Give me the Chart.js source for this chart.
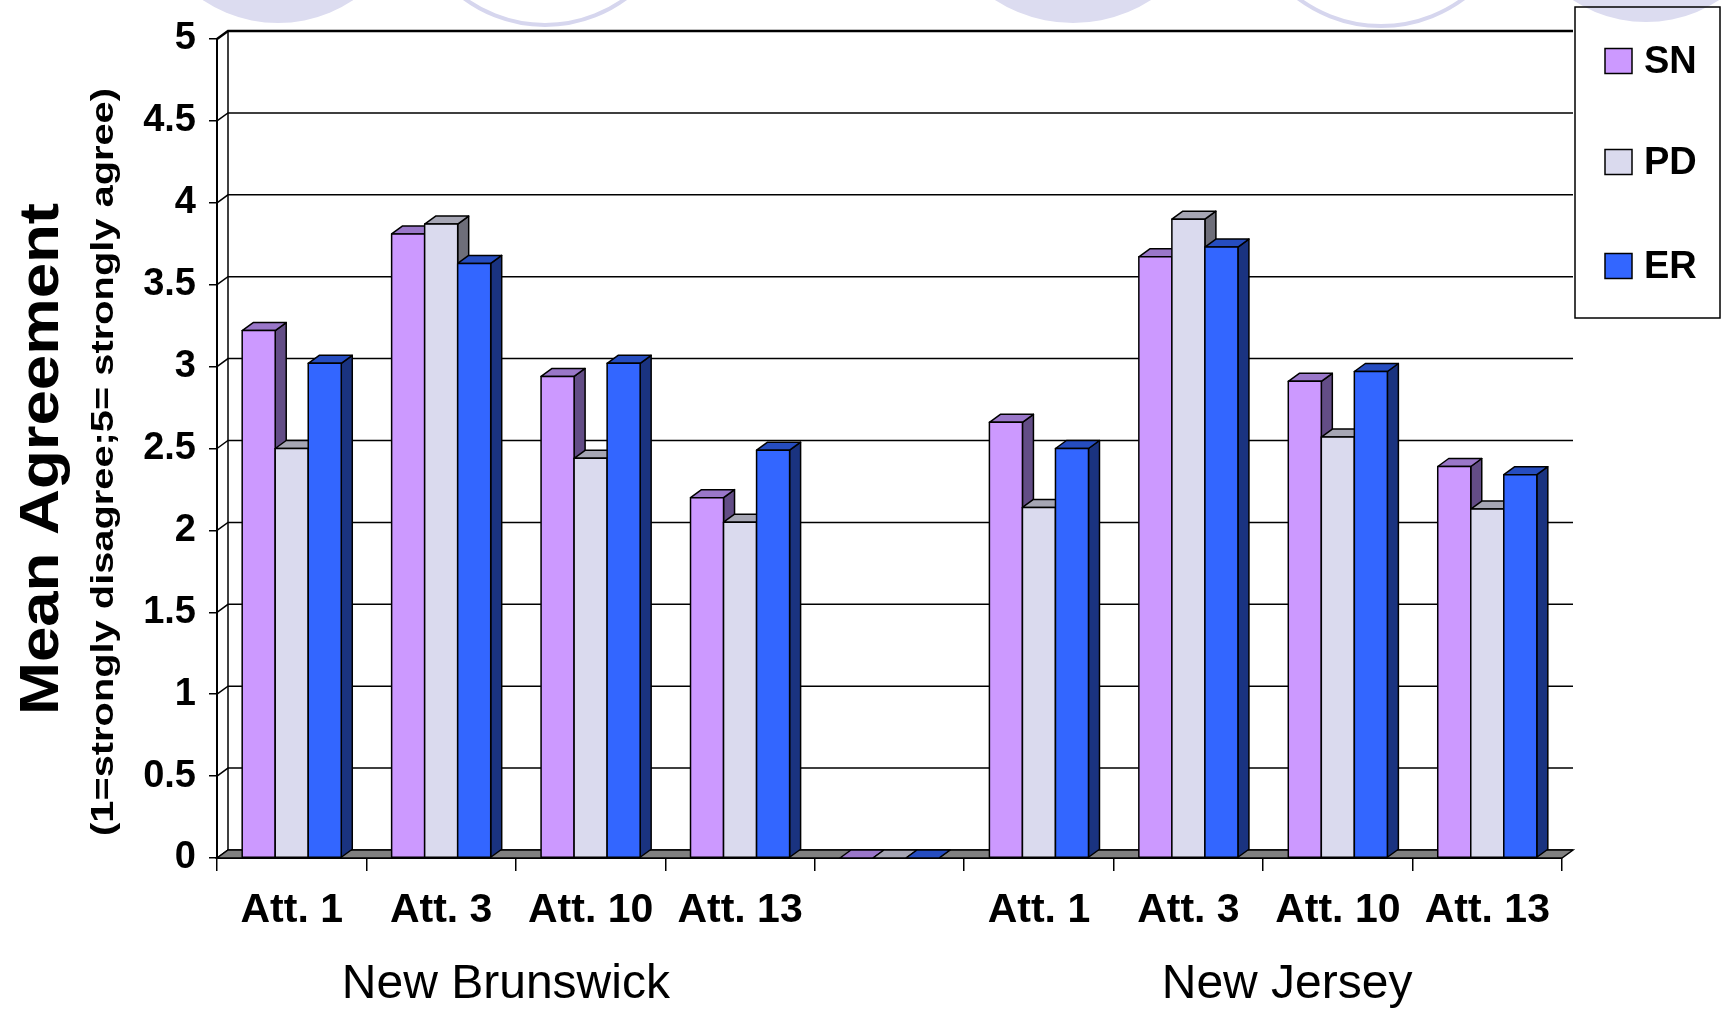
<!DOCTYPE html>
<html><head><meta charset="utf-8">
<script src="https://cdn.jsdelivr.net/npm/chart.js@4.4.0/dist/chart.umd.min.js"></script>
<style>html,body{margin:0;padding:0;background:#fff;overflow:hidden;} #wrap{position:relative;width:1725px;height:1010px;}</style>
</head><body><div id="wrap"><canvas id="c" width="1725" height="1010"></canvas></div>
<script>
const categories = ['Att. 1','Att. 3','Att. 10','Att. 13','','Att. 1','Att. 3','Att. 10','Att. 13'];
const groupLabels = ['New Brunswick','New Jersey'];
const seriesNames = ['SN','PD','ER'];
const snValues = [3.22,3.81,2.94,2.20,0,2.66,3.67,2.91,2.39];
const pdValues = [2.50,3.87,2.44,2.05,0,2.14,3.90,2.57,2.13];
const erValues = [3.02,3.63,3.02,2.49,0,2.50,3.73,2.97,2.34];
const yTickLabels = ['0','0.5','1','1.5','2','2.5','3','3.5','4','4.5','5'];
const yTitle = 'Mean Agreement';
const ySubtitle = '(1=strongly disagree;5= strongly agree)';

const FONT = '"Liberation Sans", Arial, Helvetica, sans-serif';
const faces = [
  {front:'#CC99FF', top:'#9A77C9', side:'#634D86'},
  {front:'#DADAEE', top:'#A6A6B4', side:'#6E6E79'},
  {front:'#3366FF', top:'#264DC0', side:'#1A3380'}
];
const DX = 11, DY = 8;

function poly(ctx, pts, fill){
  ctx.beginPath();
  ctx.moveTo(pts[0][0], pts[0][1]);
  for (let i=1;i<pts.length;i++) ctx.lineTo(pts[i][0], pts[i][1]);
  ctx.closePath();
  ctx.fillStyle = fill; ctx.fill(); ctx.stroke();
}

const threeD = {
  id:'threeD',
  beforeDraw(chart){
    const ctx = chart.ctx; ctx.save();
    ctx.fillStyle = '#DCDCF0';
    [[278,-112,135],[1073,-121,144],[1646,-111,133]].forEach(([x,y,r])=>{ctx.beginPath();ctx.arc(x,y,r,0,2*Math.PI);ctx.fill();});
    ctx.strokeStyle = '#D6D6EE'; ctx.lineWidth = 4;
    [[545,-111,136],[1381,-112,138]].forEach(([x,y,r])=>{ctx.beginPath();ctx.arc(x,y,r,0,2*Math.PI);ctx.stroke();});
    ctx.restore();
  },
  beforeDatasetsDraw(chart){
    const ctx = chart.ctx, ys = chart.scales.y, a = chart.chartArea;
    ctx.save();
    ctx.strokeStyle = '#000';
    ys.ticks.forEach((t, i) => {
      const py = ys.getPixelForValue(t.value);
      ctx.lineWidth = (i === ys.ticks.length-1) ? 2.5 : 1.5;
      ctx.beginPath(); ctx.moveTo(a.left, py); ctx.lineTo(a.left+DX, py-DY); ctx.lineTo(a.right+DX, py-DY); ctx.stroke();
    });
    ctx.lineWidth = 1.5;
    ctx.beginPath(); ctx.moveTo(a.left+DX, a.bottom-DY); ctx.lineTo(a.left+DX, a.top-DY); ctx.stroke();
    poly(ctx, [[a.left,a.bottom],[a.left+DX,a.bottom-DY],[a.right+DX,a.bottom-DY],[a.right,a.bottom]], '#808080');
    ctx.restore();
  },
  afterDatasetsDraw(chart){
    const ctx = chart.ctx;
    const metas = [0,1,2].map(i => chart.getDatasetMeta(i));
    ctx.save();
    ctx.strokeStyle = '#000'; ctx.lineWidth = 1.5; ctx.lineJoin = 'round';
    for (let i=0;i<categories.length;i++){
      metas.forEach((m, d) => {
        const el = m.data[i];
        const p = el.getProps(['x','y','base','width'], true);
        const l = p.x - p.width/2, r = p.x + p.width/2, y = p.y, b = p.base;
        const c = faces[d];
        poly(ctx, [[r,y],[r+DX,y-DY],[r+DX,b-DY],[r,b]], c.side);
        poly(ctx, [[l,y],[l+DX,y-DY],[r+DX,y-DY],[r,y]], c.top);
        if (b - y > 0.5){
          ctx.fillStyle = c.front; ctx.fillRect(l, y, p.width, b-y); ctx.strokeRect(l, y, p.width, b-y);
        }
      });
    }
    ctx.restore();
  },
  afterDraw(chart){
    const ctx = chart.ctx, xs = chart.scales.x;
    ctx.save();
    ctx.fillStyle = '#000';
    ctx.textAlign = 'center'; ctx.textBaseline = 'middle';
    ctx.save(); ctx.translate(43, 459); ctx.rotate(-Math.PI/2);
    ctx.font = 'bold 56px ' + FONT;
    let w = ctx.measureText(yTitle).width; ctx.scale(512/w, 1); ctx.fillText(yTitle, 0, 0);
    ctx.restore();
    ctx.save(); ctx.translate(104, 462); ctx.rotate(-Math.PI/2);
    ctx.font = 'bold 32px ' + FONT;
    w = ctx.measureText(ySubtitle).width; ctx.scale(748/w, 1); ctx.fillText(ySubtitle, 0, 0);
    ctx.restore();
    ctx.font = '48px ' + FONT;
    const c1 = (xs.getPixelForTick(1) + xs.getPixelForTick(2))/2 - 10;
    const c2 = (xs.getPixelForTick(6) + xs.getPixelForTick(7))/2 + 24;
    ctx.fillText(groupLabels[0], c1, 985);
    ctx.fillText(groupLabels[1], c2, 985);
    ctx.strokeStyle = '#000'; ctx.lineWidth = 1.5;
    ctx.strokeRect(1575, 7, 145, 311);
    const ly = [61, 162, 266];
    ctx.font = 'bold 38px ' + FONT; ctx.textAlign = 'left';
    seriesNames.forEach((n, i) => {
      ctx.fillStyle = faces[i].front;
      ctx.fillRect(1605, ly[i]-12.5, 27, 25); ctx.strokeRect(1605, ly[i]-12.5, 27, 25);
      ctx.fillStyle = '#000'; ctx.fillText(n, 1644, ly[i]+2);
    });
    ctx.restore();
  }
};

new Chart(document.getElementById('c'), {
  type: 'bar',
  data: {
    labels: categories,
    datasets: [
      {label: seriesNames[0], data: snValues, backgroundColor: faces[0].front, borderColor:'#000', borderWidth:1.5},
      {label: seriesNames[1], data: pdValues, backgroundColor: faces[1].front, borderColor:'#000', borderWidth:1.5},
      {label: seriesNames[2], data: erValues, backgroundColor: faces[2].front, borderColor:'#000', borderWidth:1.5}
    ]
  },
  options: {
    responsive: false, animation: false, devicePixelRatio: 1,
    categoryPercentage: 0.663, barPercentage: 1.0,
    layout: {padding: {left: 0, top: 39, right: 163, bottom: 0}},
    plugins: {legend: {display: false}, tooltip: {enabled: false}},
    scales: {
      x: {
        grid: {offset: true, drawOnChartArea: false, drawTicks: true, tickLength: 13, color: '#000', lineWidth: 1.5},
        border: {display: true, color: '#000', width: 2},
        ticks: {font: {family: FONT, size: 41, weight: 'bold'}, color: '#000', padding: 15, maxRotation: 0, autoSkip: false},
        afterFit(s){ s.height = 152; }
      },
      y: {
        min: 0, max: 5,
        ticks: {stepSize: 0.5, callback: (v, i) => yTickLabels[i], font: {family: FONT, size: 38, weight: 'bold'}, color: '#000', padding: 13},
        grid: {drawOnChartArea: false, drawTicks: true, tickLength: 8, color: '#000', lineWidth: 1.5},
        border: {display: true, color: '#000', width: 2},
        afterFit(s){ s.width = 217; }
      }
    }
  },
  plugins: [threeD]
});
</script>
</body></html>
